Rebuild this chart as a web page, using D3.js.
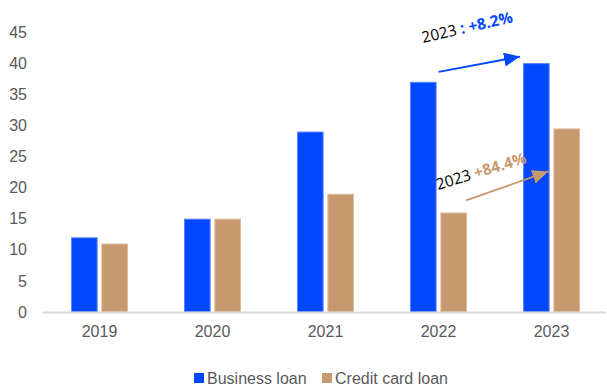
<!DOCTYPE html>
<html>
<head>
<meta charset="utf-8">
<script src="https://cdn.jsdelivr.net/npm/d3@7/dist/d3.min.js"></script>
<style>
  html, body { margin: 0; padding: 0; background: #fff; }
  svg { display: block; }
</style>
</head>
<body>
<svg id="chart" width="607" height="388"></svg>
<script>
// Loan balances by year
const years = ["2019", "2020", "2021", "2022", "2023"];
const seriesNames = ["Business loan", "Credit card loan"];
const businessLoan = [12, 15, 29, 37, 40];
const creditCardLoan = [11, 15, 19, 16, 29.5];
const yTicks = [0, 5, 10, 15, 20, 25, 30, 35, 40, 45];
// Year-over-year growth labels for 2023
const growthYear = ["2023", "2023"];
const growthText = [": +8.2%", "+84.4%"];

const colors = ["#0047ff", "#c8996f"];
const strokeColors = ["#5c86ff", "#dcbb9c"];

const svg = d3.select("#chart");

const x0 = d3.scaleBand().domain(years).range([43, 608]).padding(0);
const x1 = d3.scaleBand().domain(seriesNames).range([28, 85]).paddingInner(0.123);
const y = d3.scaleLinear().domain([0, 45]).range([312, 32]);

const rows = years.map((yr, i) => ({
  year: yr,
  values: [
    { key: seriesNames[0], value: businessLoan[i], idx: 0 },
    { key: seriesNames[1], value: creditCardLoan[i], idx: 1 }
  ]
}));

// Y axis labels (no line, no ticks)
const yAxis = d3.axisLeft(y).tickValues(yTicks).tickSize(0).tickPadding(0);
const gy = svg.append("g").attr("transform", "translate(27,0)").call(yAxis);
gy.select(".domain").remove();
gy.selectAll("text")
  .attr("fill", "#595959")
  .style("font-family", "'Liberation Sans', Arial, sans-serif")
  .style("font-size", "16px");

// Bars
const groups = svg.append("g").selectAll("g").data(rows).join("g")
  .attr("transform", d => `translate(${x0(d.year)},0)`);
groups.selectAll("rect").data(d => d.values).join("rect")
  .attr("x", d => x1(d.key) + 0.5)
  .attr("y", d => y(d.value) + 0.5)
  .attr("width", x1.bandwidth() - 1)
  .attr("height", d => y(0) - y(d.value) - 0.5)
  .attr("fill", d => colors[d.idx])
  .attr("stroke", d => strokeColors[d.idx])
  .attr("stroke-width", 1);

// X axis baseline and labels
const xAxis = d3.axisBottom(x0).tickSize(0).tickPadding(14);
const gx = svg.append("g").attr("transform", `translate(0,${y(0)})`).call(xAxis);
gx.select(".domain").attr("stroke", "#d9d9d9").attr("stroke-width", 2)
  .attr("d", `M43,0.5H606`);
gx.selectAll("text")
  .attr("fill", "#595959")
  .style("font-family", "'Liberation Sans', Arial, sans-serif")
  .style("font-size", "16px");

// Arrowheads
const defs = svg.append("defs");
colors.forEach((c, i) => {
  defs.append("marker")
    .attr("id", "arrow" + i)
    .attr("viewBox", "0 0 10 10")
    .attr("refX", 10).attr("refY", 5)
    .attr("markerWidth", 16).attr("markerHeight", 14)
    .attr("markerUnits", "userSpaceOnUse")
    .attr("orient", "auto")
    .attr("preserveAspectRatio", "none")
    .append("path").attr("d", "M0,0L10,5L0,10Z").attr("fill", c);
});

const bw = x1.bandwidth();

// Business loan arrow (2022 -> 2023)
svg.append("line")
  .attr("x1", x0("2022") + x1(seriesNames[0]) + bw + 2).attr("y1", y(businessLoan[3]) - 10)
  .attr("x2", x0("2023") + x1(seriesNames[0]) - 3).attr("y2", y(businessLoan[4]) - 6.5)
  .attr("stroke", colors[0]).attr("stroke-width", 1.8)
  .attr("marker-end", "url(#arrow0)");

// Credit card loan arrow (2022 -> 2023)
svg.append("line")
  .attr("x1", x0("2022") + x1(seriesNames[1]) + bw - 1).attr("y1", y(creditCardLoan[3]) - 12)
  .attr("x2", x0("2023") + x1(seriesNames[1]) - 5).attr("y2", y(creditCardLoan[4]) + 43)
  .attr("stroke", colors[1]).attr("stroke-width", 1.8)
  .attr("marker-end", "url(#arrow1)");

const annFont = "'Open Sans', 'DejaVu Sans', sans-serif";

const t1 = svg.append("text")
  .attr("transform", "translate(423,43) rotate(-13)")
  .style("font-family", annFont).style("font-size", "15.5px");
t1.append("tspan").attr("fill", "#000").text(growthYear[0] + " ");
t1.append("tspan").attr("fill", colors[0]).attr("font-weight", "bold").text(growthText[0]);

const t2 = svg.append("text")
  .attr("transform", "translate(438,190) rotate(-17)")
  .style("font-family", annFont).style("font-size", "15.5px");
t2.append("tspan").attr("fill", "#000").text(growthYear[1] + " ");
t2.append("tspan").attr("fill", colors[1]).attr("font-weight", "bold").text(growthText[1]);

// Legend
const legend = svg.append("g").attr("transform", "translate(0,378)");
const legendX = [194, 322];
seriesNames.forEach((name, i) => {
  legend.append("rect")
    .attr("x", legendX[i]).attr("y", -5).attr("width", 10).attr("height", 10)
    .attr("fill", colors[i]);
  legend.append("text")
    .attr("x", legendX[i] + 13).attr("y", 0).attr("dy", "0.36em")
    .attr("fill", "#595959")
    .style("font-family", "'Liberation Sans', Arial, sans-serif")
    .style("font-size", "16px")
    .text(name);
});
</script>
</body>
</html>
